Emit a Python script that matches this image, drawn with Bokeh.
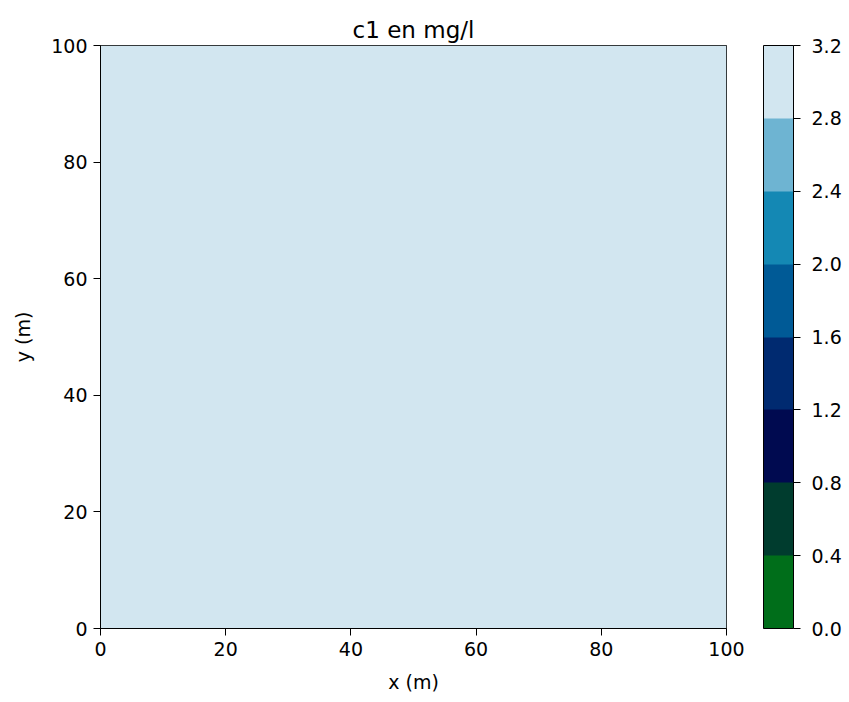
import numpy as np
from bokeh.plotting import figure
from bokeh.models import LinearColorMapper, ColorBar, FixedTicker, Range1d, PrintfTickFormatter
from bokeh.embed import file_html
from bokeh.resources import INLINE

# Data
x_extent = [0, 100]
y_extent = [0, 100]
c1_field = [[3.0, 3.0], [3.0, 3.0]]
levels = [0.0, 0.4, 0.8, 1.2, 1.6, 2.0, 2.4, 2.8, 3.2]
level_colors = ["#006e1a", "#003c2e", "#000a50", "#002a70",
                "#005a96", "#1488b4", "#6eb4d2", "#d2e6f0"]
x_ticks = [0, 20, 40, 60, 80, 100]
y_ticks = [0, 20, 40, 60, 80, 100]

FONT = "DejaVu Sans"
TICK_FS = "19px"

p = figure(output_backend="svg", toolbar_location=None,
           x_range=Range1d(*x_extent), y_range=Range1d(*y_extent),
           title="c1 en mg/l", min_border_left=100, min_border_top=45,
           min_border_bottom=74, min_border_right=0)
p.frame_width = 626
p.frame_height = 583

mapper = LinearColorMapper(palette=level_colors, low=levels[0], high=levels[-1])
p.image(image=[np.array(c1_field)], x=x_extent[0], y=y_extent[0],
        dw=x_extent[1] - x_extent[0], dh=y_extent[1] - y_extent[0],
        color_mapper=mapper)

p.title.align = "center"
p.title.text_font = FONT
p.title.text_font_size = "23px"
p.title.text_font_style = "normal"
p.title.text_color = "#000000"
p.title.standoff = 6

p.xgrid.visible = False
p.ygrid.visible = False
p.outline_line_color = "#000000"
p.outline_line_width = 1

for ax, ticks, label in ((p.xaxis[0], x_ticks, "x (m)"), (p.yaxis[0], y_ticks, "y (m)")):
    ax.ticker = FixedTicker(ticks=ticks)
    ax.axis_label = label
    ax.axis_label_text_font = FONT
    ax.axis_label_text_font_size = TICK_FS
    ax.axis_label_text_font_style = "normal"
    ax.axis_label_text_color = "#000000"
    ax.major_label_text_font = FONT
    ax.major_label_text_font_size = TICK_FS
    ax.major_label_text_color = "#000000"
    ax.axis_line_color = "#000000"
    ax.major_tick_line_color = "#000000"
    ax.major_tick_out = 7
    ax.major_tick_in = 0
    ax.minor_tick_line_color = None
    ax.major_label_standoff = 6
p.xaxis[0].axis_label_standoff = 12
p.yaxis[0].axis_label_standoff = 14

cb = ColorBar(color_mapper=mapper, ticker=FixedTicker(ticks=levels),
              formatter=PrintfTickFormatter(format="%.1f"),
              width=30, height=583, padding=0, margin=0, location=(37, 0),
              bar_line_color="#000000", major_tick_line_color="#000000",
              major_tick_out=7, major_tick_in=0,
              major_label_text_font=FONT, major_label_text_font_size=TICK_FS,
              major_label_text_color="#000000", label_standoff=11,
              background_fill_alpha=0, border_line_color=None)
p.add_layout(cb, "right")

open("out.html", "w").write(file_html(p, INLINE))
